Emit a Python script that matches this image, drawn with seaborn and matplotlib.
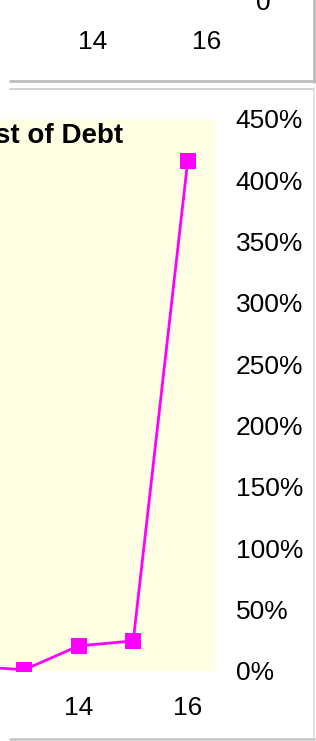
import matplotlib
matplotlib.use("Agg")
from matplotlib import pyplot as plt
from matplotlib.lines import Line2D
from matplotlib.ticker import FuncFormatter, MultipleLocator
import seaborn as sns
import pandas as pd

# values
years = [12, 13, 14, 15, 16]
cost_of_debt = [4, 1, 20.5, 24.5, 416]   # percent
top_years = [12, 14, 16]
title = "Cost of Debt"

sns.set_style("white")
plt.rcParams['font.family'] = ['Liberation Sans', 'DejaVu Sans']
plt.rcParams['text.color'] = 'black'
plt.rcParams['xtick.color'] = 'black'
plt.rcParams['ytick.color'] = 'black'

W, H = 316, 741
fig = plt.figure(figsize=(W / 100, H / 100), dpi=100)

def box(left, top, right, bottom):
    # pixel box (from top-left) -> figure fraction
    return [left / W, 1 - bottom / H, (right - left) / W, (bottom - top) / H]

# bottom of the panel above (mostly cropped away)
ax1 = fig.add_axes(box(235 - 5 * 57, -200, 235, 1))
ax1.set_facecolor("white")
ax1.set_xlim(11.5, 16.5)
ax1.set_ylim(0, 1)
ax1.set_xticks(top_years)
ax1.set_yticks([0])
ax1.set_yticklabels(["0"])
ax1.yaxis.tick_right()
ax1.tick_params(axis="both", length=0, labelsize=19)
ax1.tick_params(axis="x", pad=21)
ax1.tick_params(axis="y", pad=15)
for s in ax1.spines.values():
    s.set_visible(False)

# main panel
data = pd.DataFrame({"year": years, "cost": cost_of_debt})
ax = fig.add_axes(box(215 - 5 * 54.5, 119, 215, 671))
ax.set_facecolor("#ffffe4")
sns.lineplot(data=data, x="year", y="cost", ax=ax, color="#ff00ff",
             linewidth=2, marker="s", markersize=11.5,
             markeredgewidth=0, markerfacecolor="#ff00ff")
ax.set_xlim(11.5, 16.5)
ax.set_ylim(0, 450)
ax.xaxis.set_major_locator(MultipleLocator(2))
ax.yaxis.set_major_locator(MultipleLocator(50))
ax.yaxis.set_major_formatter(FuncFormatter(lambda v, p: f"{v:.0f}%"))
ax.yaxis.tick_right()
ax.tick_params(axis="both", length=0, labelsize=19)
ax.tick_params(axis="x", pad=18)
ax.tick_params(axis="y", pad=15)
ax.set_xlabel("")
ax.set_ylabel("")
for s in ax.spines.values():
    s.set_visible(False)

fig.text(123 / W, 1 - 143 / H, title, ha="right", va="baseline",
         fontsize=20, fontweight="bold")

# panel borders
def hline(y, x0, x1, c, lw):
    fig.add_artist(Line2D([x0 / W, x1 / W], [1 - y / H, 1 - y / H],
                          color=c, lw=lw, transform=fig.transFigure))

def vline(x, y0, y1, c, lw):
    fig.add_artist(Line2D([x / W, x / W], [1 - y0 / H, 1 - y1 / H],
                          color=c, lw=lw, transform=fig.transFigure))

hline(81, 10, 315, "#bcbcbc", 2)
vline(314, 0, 82, "#bcbcbc", 2)
hline(88.5, 10, 314, "#d2d2d2", 1.5)
vline(313.5, 88, 739, "#dcdcdc", 1.2)
hline(739, 10, 314, "#c4c4c4", 1.8)

fig.savefig("out.png", dpi=100)
